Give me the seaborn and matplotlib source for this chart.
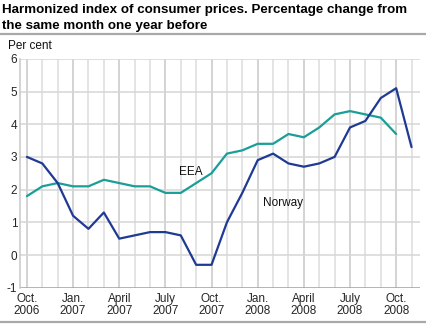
import matplotlib
matplotlib.use("Agg")
import matplotlib.pyplot as plt
from matplotlib.lines import Line2D
import seaborn as sns
import pandas as pd

months = ["2006-10", "2006-11", "2006-12", "2007-01", "2007-02", "2007-03",
          "2007-04", "2007-05", "2007-06", "2007-07", "2007-08", "2007-09",
          "2007-10", "2007-11", "2007-12", "2008-01", "2008-02", "2008-03",
          "2008-04", "2008-05", "2008-06", "2008-07", "2008-08", "2008-09",
          "2008-10", "2008-11"]
norway = [3.0, 2.8, 2.2, 1.2, 0.8, 1.3, 0.5, 0.6, 0.7, 0.7, 0.6, -0.3, -0.3,
          1.0, 1.9, 2.9, 3.1, 2.8, 2.7, 2.8, 3.0, 3.9, 4.1, 4.8, 5.1, 3.3]
eea = [1.8, 2.1, 2.2, 2.1, 2.1, 2.3, 2.2, 2.1, 2.1, 1.9, 1.9, 2.2, 2.5,
       3.1, 3.2, 3.4, 3.4, 3.7, 3.6, 3.9, 4.3, 4.4, 4.3, 4.2, 3.7]
tick_labels = ["Oct.\n2006", "Jan.\n2007", "April\n2007", "July\n2007",
               "Oct.\n2007", "Jan.\n2008", "April\n2008", "July\n2008",
               "Oct.\n2008"]
yticks = [-1, 0, 1, 2, 3, 4, 5, 6]

sns.set_theme(style="white")
plt.rcParams['font.family'] = ['Liberation Sans', 'DejaVu Sans']

df_n = pd.DataFrame({"idx": range(len(norway)), "value": norway})
df_e = pd.DataFrame({"idx": range(len(eea)), "value": eea})

fig = plt.figure(figsize=(4.26, 3.25), dpi=100)
ax = fig.add_axes([20/426, 1 - 287.7/325, 400/426, (287.7 - 58.8)/325])

# grid
for i in range(len(months)):
    ax.axvline(i, color="#c8c8c8" if i % 3 == 0 else "#dcdcdc",
               lw=1.1, zorder=0)
for v in yticks:
    ax.axhline(v, color="#a0a0a0" if v == -1 else "#d6d6d6", lw=1.1, zorder=0)

sns.lineplot(data=df_e, x="idx", y="value", color="#1a9e98", lw=1.6, ax=ax,
             zorder=3)
sns.lineplot(data=df_n, x="idx", y="value", color="#1f3a93", lw=1.6, ax=ax,
             zorder=4)

ax.set_xlim(-0.45, 25.55)
ax.set_ylim(-1, 6)
ax.set_xticks(range(0, len(months), 3))
ax.set_xticklabels(tick_labels, fontsize=8.5, linespacing=1.0)
ax.set_yticks(yticks)
ax.set_yticklabels([str(v) for v in yticks], fontsize=8.5)
ax.tick_params(axis="y", length=0, pad=2)
ax.tick_params(axis="x", length=0, pad=3.8)
ax.set_xlabel("")
ax.set_ylabel("")
for s in ["top", "right", "bottom"]:
    ax.spines[s].set_visible(False)
ax.spines["left"].set_color("#c8c8c8")
ax.spines["left"].set_linewidth(1.1)

ax.text(10.67, 2.55, "EEA", fontsize=8.5, ha="center", va="center",
        color="#111111")
ax.text(16.64, 1.59, "Norway", fontsize=8.5, ha="center", va="center",
        color="#111111")

fig.text(2/426, 1 - 13.5/325, "Harmonized index of consumer prices. Percentage change from",
         fontsize=9.6, fontweight="bold", ha="left", va="baseline", color="#000000")
fig.text(2/426, 1 - 29/325, "the same month one year before",
         fontsize=9.6, fontweight="bold", ha="left", va="baseline", color="#000000")
fig.text(8/426, 1 - 49.3/325, "Per cent", fontsize=8.5, ha="left", va="baseline",
         color="#111111")

fig.add_artist(Line2D([0, 1], [1 - 33.5/325, 1 - 33.5/325], transform=fig.transFigure,
                      color="#a8a8a8", lw=1.6))
fig.add_artist(Line2D([0, 1], [1 - 322/325, 1 - 322/325], transform=fig.transFigure,
                      color="#a8a8a8", lw=1.6))

fig.savefig("out.png", dpi=100)
